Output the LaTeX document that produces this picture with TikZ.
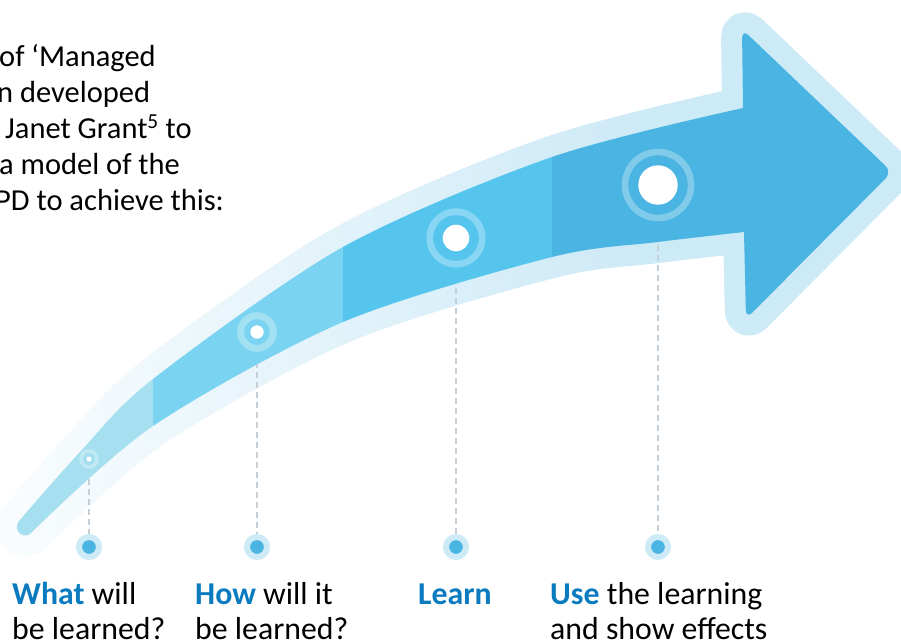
\documentclass[tikz,border=0pt]{standalone}
\usepackage{fontspec}
\setmainfont{Carlito}
\usetikzlibrary{fadings}

\definecolor{haloblue}{HTML}{CDEAF7}
\definecolor{segA}{HTML}{A6E0F0}
\definecolor{segB}{HTML}{7AD3F0}
\definecolor{segC}{HTML}{55C5EE}
\definecolor{segD}{HTML}{4AB4E2}
\definecolor{guidegray}{HTML}{C5CFD7}
\definecolor{stepblue}{HTML}{0B7BBF}

\newcommand{\arrowoutline}{
  plot[smooth] coordinates {(19,521) (80,452) (153,379) (343,247) (552,157) (743,108)}
  [rounded corners=9pt] -- (742,29) -- (892,172) -- (746,319) -- (744,232) [sharp corners]
  -- plot[smooth] coordinates {(744,232) (658,242) (552,257) (343,322) (153,426) (31,533)}
  .. controls (24,540) and (12,531) .. (19,521) -- cycle}

\tikzset{
  halo/.style={draw=haloblue, line width=42pt, line join=round},
  guide/.style={draw=guidegray, line width=1.3pt, dash pattern=on 6pt off 4pt},
  milestone/.style={circle, fill=segD, draw=haloblue, line width=6pt, minimum size=20pt, inner sep=0pt},
  spot/.style={circle, fill=white, inner sep=0pt},
  ring/.style={draw=white, draw opacity=.3},
  lbl/.style={anchor=base west, align=left, inner sep=0pt, font=\fontsize{31.8}{35}\selectfont},
}

\begin{document}
\begin{tikzpicture}[x=1pt, y=-1pt]
  \useasboundingbox (0,0) rectangle (901,641);

  \coordinate (p1) at (89,459);
  \coordinate (p2) at (257,332);
  \coordinate (p3) at (456,238);
  \coordinate (p4) at (658,185);

  % pale rim, fading out towards the tail
  \draw[halo] \arrowoutline;
  \fill[white, path fading=east, fill opacity=.9] (0,0) rectangle (650,641);

  \node[milestone] (d1) at (p1 |- 0,547) {};
  \node[milestone] (d2) at (p2 |- 0,547) {};
  \node[milestone] (d3) at (p3 |- 0,547) {};
  \node[milestone] (d4) at (p4 |- 0,547) {};

  \draw[guide] (p1) -- (d1);
  \draw[guide] (p2) -- (d2);
  \draw[guide] (p3) -- (d3);
  \draw[guide] (p4) -- (d4);

  \begin{scope}
    \clip \arrowoutline;
    \fill[segA] (0,0) rectangle (153,641);
    \fill[segB] (153,0) rectangle (343,641);
    \fill[segC] (343,0) rectangle (552,641);
    \fill[segD] (552,0) rectangle (901,641);
  \end{scope}

  \draw[ring, line width=3.4pt] (p1) circle[radius=8pt];
  \draw[ring, line width=7pt] (p2) circle[radius=16.3pt];
  \draw[ring, line width=6.7pt] (p3) circle[radius=26.3pt];
  \draw[ring, line width=6.6pt] (p4) circle[radius=33pt];
  \node[spot, minimum size=5pt] (c1) at (p1) {};
  \node[spot, minimum size=13.4pt] (c2) at (p2) {};
  \node[spot, minimum size=26.6pt] (c3) at (p3) {};
  \node[spot, minimum size=39.4pt] (c4) at (p4) {};

  \node[lbl, font=\fontsize{30.5}{36}\selectfont] (intro) at (0,210)
    {\hspace*{-1pt}of ‘Managed\\\hspace*{-3pt}n developed\\\hspace*{5pt}Janet Grant\textsuperscript{5} to\\\hspace*{-1pt}a model of the\\\hspace*{-5pt}PD to achieve this:};

  \node[lbl] (l1) at (12,639) {\textbf{\color{stepblue}What} will\\be learned?};
  \node[lbl] (l2) at (195,639) {\textbf{\color{stepblue}How} will it\\be learned?};
  \node[lbl] (l3) at (418,604) {\textbf{\color{stepblue}Learn}};
  \node[lbl] (l4) at (550,639) {\textbf{\color{stepblue}Use} the learning\\and show effects};
\end{tikzpicture}
\end{document}
